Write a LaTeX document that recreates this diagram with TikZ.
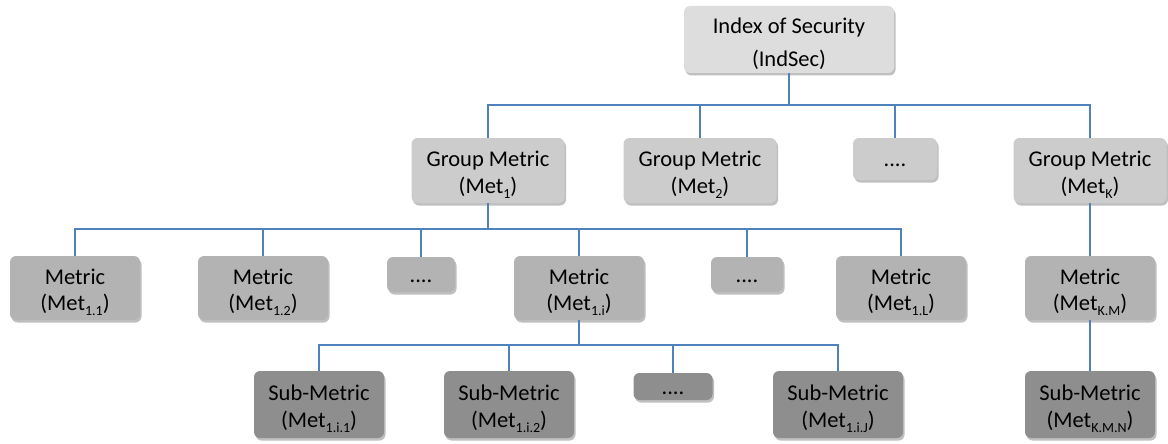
\documentclass[tikz,border=0pt]{standalone}
\usepackage{fontspec}
\setmainfont{Carlito}
\usetikzlibrary{shadows}
\definecolor{linec}{RGB}{79,129,189}
\definecolor{ctop}{RGB}{221,221,221}
\definecolor{cgrp}{RGB}{204,204,204}
\definecolor{cmet}{RGB}{179,179,179}
\definecolor{csub}{RGB}{142,142,142}
\newcommand\mysub[1]{\raisebox{-0.22em}{\fontsize{14}{14}\selectfont #1}}
\newcommand\lowr{\rule{0pt}{24pt}}
\newcommand\fourdots{\raisebox{-7pt}{....}}
\tikzset{
  box/.style={rounded corners=6pt, inner sep=0pt,
    font=\fontsize{22.5}{26.5}\selectfont, text=black,
    drop shadow={shadow xshift=1.5pt, shadow yshift=-2.5pt, opacity=0.25, fill=black}},
  txt/.style={align=center},
  dots/.style={text height=1pt, text depth=0pt},
  topbox/.style={box, txt, fill=ctop, minimum width=210pt, minimum height=67pt, font=\fontsize{22.5}{33}\selectfont},
  grpbox/.style={box, fill=cgrp, minimum width=153pt, minimum height=65pt},
  metbox/.style={box, fill=cmet, minimum width=130pt, minimum height=64pt},
  subbox/.style={box, fill=csub, minimum width=130pt, minimum height=67pt},
  conn/.style={draw=linec, line width=1.8pt}
}
\begin{document}
\begin{tikzpicture}[x=1pt,y=-1pt]
\useasboundingbox (0,0) rectangle (1168,444);
% top
\node[topbox] (top) at (789,39.5) {\lowr Index of Security\\(IndSec)};
% group row
\node[grpbox, txt] (g1) at (488,170.5) {\lowr Group Metric\\(Met\mysub{1})};
\node[grpbox, txt] (g2) at (700,170.5) {\lowr Group Metric\\(Met\mysub{2})};
\node[grpbox, dots, minimum width=84pt, minimum height=42pt] (gd) at (895,159) {\fourdots};
\node[grpbox, txt] (gk) at (1090,170.5) {\lowr Group Metric\\(Met\mysub{K})};
% metric row
\node[metbox, txt] (m11) at (75,288) {\lowr Metric\\(Met\mysub{1.1})};
\node[metbox, txt] (m12) at (263,288) {\lowr Metric\\(Met\mysub{1.2})};
\node[metbox, dots, minimum width=68pt, minimum height=35pt] (md1) at (421,274.5) {\fourdots};
\node[metbox, txt] (m1i) at (579,288) {\lowr Metric\\(Met\mysub{1.i})};
\node[metbox, dots, minimum width=72pt, minimum height=35pt] (md2) at (747,274.5) {\fourdots};
\node[metbox, txt] (m1l) at (901,288) {\lowr Metric\\(Met\mysub{1.L})};
\node[metbox, txt] (mkm) at (1090,288) {\lowr Metric\\(Met\mysub{K.M})};
% sub row
\node[subbox, txt] (s1) at (319,404.5) {\lowr Sub-Metric\\(Met\mysub{1.i.1})};
\node[subbox, txt] (s2) at (509,404.5) {\lowr Sub-Metric\\(Met\mysub{1.i.2})};
\node[subbox, dots, minimum width=79pt, minimum height=27pt] (sd) at (673,386.5) {\fourdots};
\node[subbox, txt] (sj) at (838,404.5) {\lowr Sub-Metric\\(Met\mysub{1.i.J})};
\node[subbox, txt] (skmn) at (1090,404.5) {\lowr Sub-Metric\\(Met\mysub{K.M.N})};
% buses
\coordinate (b1) at (789,105);
\coordinate (b2) at (488,229);
\coordinate (b3) at (579,345);
\draw[conn] (top.south) -- (b1);
\foreach \c in {g1,g2,gd,gk} \draw[conn] (\c.north) |- (b1);
\draw[conn] (g1.south) -- (b2);
\foreach \c in {m11,m12,md1,m1i,md2,m1l} \draw[conn] (\c.north) |- (b2);
\draw[conn] (m1i.south) -- (b3);
\foreach \c in {s1,s2,sd,sj} \draw[conn] (\c.north) |- (b3);
\draw[conn] (gk.south) -- (gk.south |- mkm.north);
\draw[conn] (mkm.south) -- (mkm.south |- skmn.north);
\end{tikzpicture}
\end{document}
